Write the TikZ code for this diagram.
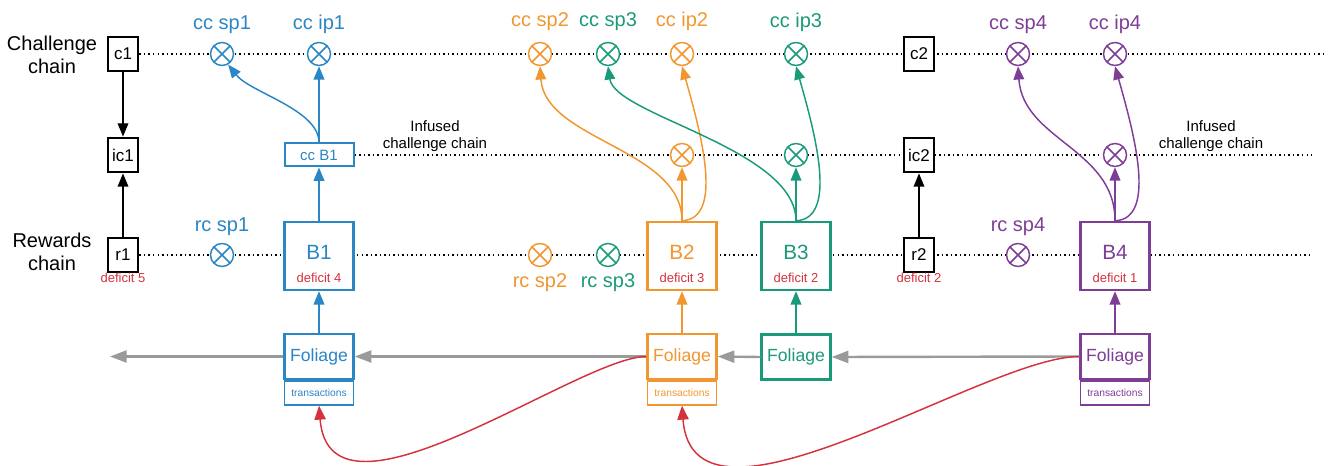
\documentclass[tikz,border=0pt]{standalone}
\usepackage{fontspec}
\setmainfont{Liberation Sans}
\usetikzlibrary{arrows.meta,backgrounds}
\definecolor{cblue}{HTML}{2A86C4}
\definecolor{corange}{HTML}{F2962F}
\definecolor{cteal}{HTML}{1B9A7B}
\definecolor{cpurple}{HTML}{7E3E96}
\definecolor{cred}{HTML}{D4323E}
\definecolor{cgray}{HTML}{9A9A9A}
\newcommand\fsz[2]{\fontsize{#1}{#2}\selectfont}
\tikzset{
  blk/.style={draw=black, line width=2.1pt, fill=white, minimum width=22.5pt, minimum height=25.5pt, inner sep=0pt, font=\fsz{12.75}{15}},
  xpt/.style={circle, draw=#1, line width=1.1pt, fill=white, minimum size=17.25pt, inner sep=0pt,
    path picture={\draw[#1,line width=1.1pt] (path picture bounding box.north west) -- (path picture bounding box.south east) (path picture bounding box.north east) -- (path picture bounding box.south west);}},
  bbox/.style={draw=#1, line width=1.8pt, fill=white, minimum width=51.75pt, minimum height=51pt, inner sep=0pt},
  ccbox/.style={draw=#1, line width=1.5pt, fill=white, minimum width=51.75pt, minimum height=17.25pt, inner sep=0pt, text=#1, font=\fsz{11.25}{13}},
  fol/.style={draw=#1, line width=1.8pt, fill=white, minimum width=51.75pt, minimum height=33.75pt, inner sep=0pt, text=#1, font=\fsz{13.2}{15}},
  trx/.style={draw=#1, line width=1.1pt, minimum width=51.75pt, minimum height=18pt, inner sep=0pt, text=#1, font=\fsz{7.7}{9}},
  arr/.style={color=#1, line width=1.1pt, -{Triangle[length=10pt,width=8pt]}},
  garr/.style={color=cgray, line width=1.8pt, -{Triangle[length=12.5pt,width=9pt]}},
  rarr/.style={color=cred, line width=1.1pt, -{Triangle[length=10.5pt,width=8.5pt]}},
  dots/.style={line width=1.1pt, dash pattern=on 1.1pt off 2.3pt},
  lab/.style={font=\fsz{15}{18}, text=#1, anchor=base, inner sep=0pt},
  btext/.style={font=\fsz{15.5}{18}, text=#1, inner sep=0pt},
  deftext/.style={font=\fsz{9.75}{12}, text=cred, inner sep=0pt},
  side/.style={font=\fsz{15}{17.25}, align=center, inner sep=0pt},
  inf/.style={font=\fsz{11.25}{12.75}, align=center, inner sep=0pt}
}
\begin{document}
\begin{tikzpicture}[x=0.75pt,y=-0.75pt]
\useasboundingbox (0,0) rectangle (1330,466);

% side labels
\node[side] (tch) at (52,55) {Challenge\\chain};
\node[side] (trw) at (52,252) {Rewards\\chain};
\node[inf] (inf1) at (435,136) {Infused\\challenge chain};
\node[inf] (inf2t) at (1211,136) {Infused\\challenge chain};

% black boxes
\node[blk] (c1) at (123,54) {c1};
\node[blk] (ic1) at (123,155) {ic1};
\node[blk] (r1) at (123,255) {r1};
\node[deftext] (d5) at (123,278) {deficit 5};
\node[blk] (c2) at (919,54) {c2};
\node[blk] (ic2) at (919,155) {ic2};
\node[blk] (r2) at (919,255) {r2};
\node[deftext] (d2r) at (919,278) {deficit 2};

% end coordinates
\coordinate (ccend) at (1323,54);
\coordinate (icend) at (1312,155);
\coordinate (rcend) at (1312,255);
\coordinate (gend) at (110,356.5);

% block 1 (blue)
\node[xpt=cblue] (ccsp1) at (222,54) {};
\node[xpt=cblue] (ccip1) at (319,54) {};
\node[lab=cblue] (lccsp1) at (222,29.5) {cc sp1};
\node[lab=cblue] (lccip1) at (319,29.5) {cc ip1};
\node[ccbox=cblue] (ccB1) at (319,155) {cc B1};
\node[xpt=cblue] (rcsp1) at (222,255) {};
\node[lab=cblue] (lrcsp1) at (222,231.5) {rc sp1};
\node[bbox=cblue] (B1) at (319,256) {};
\node[btext=cblue] (tB1) at (319,252) {B1};
\node[deftext] (dB1) at (319,278) {deficit 4};
\node[fol=cblue] (F1) at (319,356.5) {Foliage};
\node[trx=cblue, anchor=north] (T1) at (F1.south) {transactions};

% block 2 (orange) and 3 (teal)
\node[xpt=corange] (ccsp2) at (540,54) {};
\node[xpt=cteal] (ccsp3) at (608,54) {};
\node[xpt=corange] (ccip2) at (682,54) {};
\node[xpt=cteal] (ccip3) at (796,54) {};
\node[lab=corange] (lccsp2) at (540,26.5) {cc sp2};
\node[lab=cteal] (lccsp3) at (608,26.5) {cc sp3};
\node[lab=corange] (lccip2) at (682,26.5) {cc ip2};
\node[lab=cteal] (lccip3) at (796,27.5) {cc ip3};
\node[xpt=corange] (icp2) at (682,155) {};
\node[xpt=cteal] (icp3) at (796,155) {};
\node[xpt=corange] (rcsp2) at (540,255) {};
\node[xpt=cteal] (rcsp3) at (608,255) {};
\node[lab=corange] (lrcsp2) at (540,288) {rc sp2};
\node[lab=cteal] (lrcsp3) at (608,288) {rc sp3};
\node[bbox=corange] (B2) at (682,256) {};
\node[btext=corange] (tB2) at (682,252) {B2};
\node[deftext] (dB2) at (682,278) {deficit 3};
\node[bbox=cteal] (B3) at (796,256) {};
\node[btext=cteal] (tB3) at (796,252) {B3};
\node[deftext] (dB3) at (796,278) {deficit 2};
\node[fol=corange] (F2) at (682,356.5) {Foliage};
\node[trx=corange, anchor=north] (T2) at (F2.south) {transactions};
\node[fol=cteal] (F3) at (796,357) {Foliage};

% block 4 (purple)
\node[xpt=cpurple] (ccsp4) at (1018,54) {};
\node[xpt=cpurple] (ccip4) at (1115,54) {};
\node[lab=cpurple] (lccsp4) at (1018,29.5) {cc sp4};
\node[lab=cpurple] (lccip4) at (1115,29.5) {cc ip4};
\node[xpt=cpurple] (icp4) at (1115,155) {};
\node[xpt=cpurple] (rcsp4) at (1018,255) {};
\node[lab=cpurple] (lrcsp4) at (1018,231.5) {rc sp4};
\node[bbox=cpurple] (B4) at (1115,256) {};
\node[btext=cpurple] (tB4) at (1115,252) {B4};
\node[deftext] (dB4) at (1115,278) {deficit 1};
\node[fol=cpurple] (F4) at (1115,356.5) {Foliage};
\node[trx=cpurple, anchor=north] (T4) at (F4.south) {transactions};

% dotted chains
\begin{scope}[on background layer]
\draw[dots] (c1.east) -- (ccend);
\draw[dots] (ccB1.east) -- (icend);
\draw[dots] (r1.east) -- (rcend);
\end{scope}

% black arrows
\draw[arr=black] (c1.south) -- (ic1.north);
\draw[arr=black] (r1.north) -- (ic1.south);
\draw[arr=black] (r2.north) -- (ic2.south);

% blue arrows
\draw[arr=cblue] (F1.north) -- (B1.south);
\draw[arr=cblue] (B1.north) -- (ccB1.south);
\draw[arr=cblue] (ccB1.north) -- (ccip1.south);
\draw[arr=cblue] (ccB1.north) .. controls +(0,-33) and +(22,28) .. (ccsp1.-60);

% orange arrows
\draw[arr=corange] (F2.north) -- (B2.south);
\draw[arr=corange] (B2.north) -- (icp2.south);
\draw[arr=corange] (B2.north) .. controls +(0,-72) and +(5,74) .. (ccsp2.south);
\draw[arr=corange] (B2.north) .. controls +(43,-2) and +(18,64) .. (ccip2.south);

% teal arrows
\draw[arr=cteal] (F3.north) -- (B3.south);
\draw[arr=cteal] (B3.north) -- (icp3.south);
\draw[arr=cteal] (B3.north) .. controls +(0,-72) and +(7,49) .. (ccsp3.south);
\draw[arr=cteal] (B3.north) .. controls +(43,-2) and +(18,64) .. (ccip3.south);

% purple arrows
\draw[arr=cpurple] (F4.north) -- (B4.south);
\draw[arr=cpurple] (B4.north) -- (icp4.south);
\draw[arr=cpurple] (B4.north) .. controls +(0,-72) and +(5,74) .. (ccsp4.south);
\draw[arr=cpurple] (B4.north) .. controls +(43,-2) and +(18,64) .. (ccip4.south);

% gray foliage chain
\draw[garr] (F1.west) -- (gend);
\draw[garr] (F2.west) -- (F1.east);
\draw[garr] (F3.west) -- (F2.east);
\draw[garr] (F4.west) -- (F3.east);

% red transaction links
\draw[rarr] (F2.west) .. controls +(-67,0) and +(11,137) .. (T1.south);
\draw[rarr] (F4.west) .. controls +(-95,0) and +(11,150) .. (T2.south);
\end{tikzpicture}
\end{document}
